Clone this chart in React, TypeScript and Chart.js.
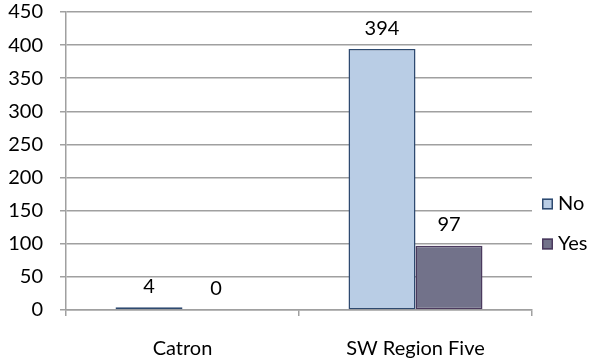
import React, { useEffect, useRef } from "react";
import { Chart, registerables } from "chart.js";

Chart.register(...registerables);

const categories = ["Catron", "SW Region Five"];
const seriesNames = ["No", "Yes"];
const noValues = [4, 394];
const yesValues = [0, 97];
const yMin = 0;
const yMax = 450;
const yStep = 50;

const FONT = "Lato, 'Open Sans', sans-serif";
const FONT_SIZE = 20;
const GRID = "#A0A0A0";
const NO_FILL = "#B9CDE5";
const NO_BORDER = "#2E4A70";
const YES_FILL = "#72728A";
const YES_BORDER = "#4B3A5E";

const dataLabelPlugin = {
  id: "dataLabels",
  afterDatasetsDraw(chart: any) {
    const ctx = chart.ctx;
    ctx.save();
    ctx.font = `${FONT_SIZE}px ${FONT}`;
    ctx.fillStyle = "#000";
    ctx.textAlign = "center";
    ctx.textBaseline = "middle";
    chart.data.datasets.forEach((ds: any, i: number) => {
      const meta = chart.getDatasetMeta(i);
      meta.data.forEach((el: any, j: number) => {
        ctx.fillText(String(ds.data[j]), el.x, el.y - 21);
      });
    });
    ctx.restore();
  },
};

const legendPlugin = {
  id: "sideLegend",
  afterDraw(chart: any) {
    const ctx = chart.ctx;
    const area = chart.chartArea;
    const x = area.right + 10;
    const ys = [204, 244];
    ctx.save();
    ctx.font = `${FONT_SIZE}px ${FONT}`;
    ctx.textBaseline = "middle";
    ctx.textAlign = "left";
    chart.data.datasets.forEach((ds: any, i: number) => {
      const y = ys[i];
      ctx.fillStyle = ds.backgroundColor;
      ctx.fillRect(x, y - 5.5, 11, 11);
      ctx.strokeStyle = ds.borderColor;
      ctx.lineWidth = 1.5;
      ctx.strokeRect(x + 0.75, y - 4.75, 9.5, 9.5);
      ctx.fillStyle = "#000";
      ctx.fillText(ds.label, x + 16, y);
    });
    ctx.restore();
  },
};

export default function App() {
  const ref = useRef<HTMLCanvasElement>(null);
  useEffect(() => {
    document.body.style.margin = "0";
    const chart = new Chart(ref.current!, {
      type: "bar",
      data: {
        labels: categories,
        datasets: [
          {
            label: seriesNames[0],
            data: noValues,
            backgroundColor: NO_FILL,
            borderColor: NO_BORDER,
            borderWidth: 1.5,
            borderSkipped: false,
          },
          {
            label: seriesNames[1],
            data: yesValues,
            backgroundColor: YES_FILL,
            borderColor: YES_BORDER,
            borderWidth: 1.5,
            borderSkipped: false,
          },
        ],
      },
      options: {
        responsive: false,
        animation: false,
        devicePixelRatio: 1,
        categoryPercentage: 0.575,
        barPercentage: 1,
        layout: { padding: { left: 0, right: 59, top: 0, bottom: 0 } },
        plugins: { legend: { display: false }, tooltip: { enabled: false } },
        scales: {
          x: {
            grid: {
              display: true,
              drawOnChartArea: false,
              drawTicks: true,
              tickLength: 6,
              color: GRID,
              lineWidth: 1.5,
              offset: true,
            },
            border: { display: true, color: GRID, width: 1.5 },
            ticks: {
              color: "#000",
              font: { family: FONT, size: FONT_SIZE, lineHeight: 1 },
              padding: 23,
            },
            afterFit(scale: any) {
              scale.height = 50;
            },
          },
          y: {
            min: yMin,
            max: yMax,
            grid: { color: GRID, lineWidth: 1.5, tickLength: 6 },
            border: { display: true, color: GRID, width: 1.5 },
            ticks: {
              stepSize: yStep,
              color: "#000",
              font: { family: FONT, size: FONT_SIZE, lineHeight: 1 },
              padding: 17,
            },
            afterFit(scale: any) {
              scale.width = 66;
              scale.paddingTop = 12;
            },
          },
        },
      },
      plugins: [dataLabelPlugin, legendPlugin],
    });
    return () => chart.destroy();
  }, []);
  return <canvas ref={ref} width={591} height={360} />;
}
